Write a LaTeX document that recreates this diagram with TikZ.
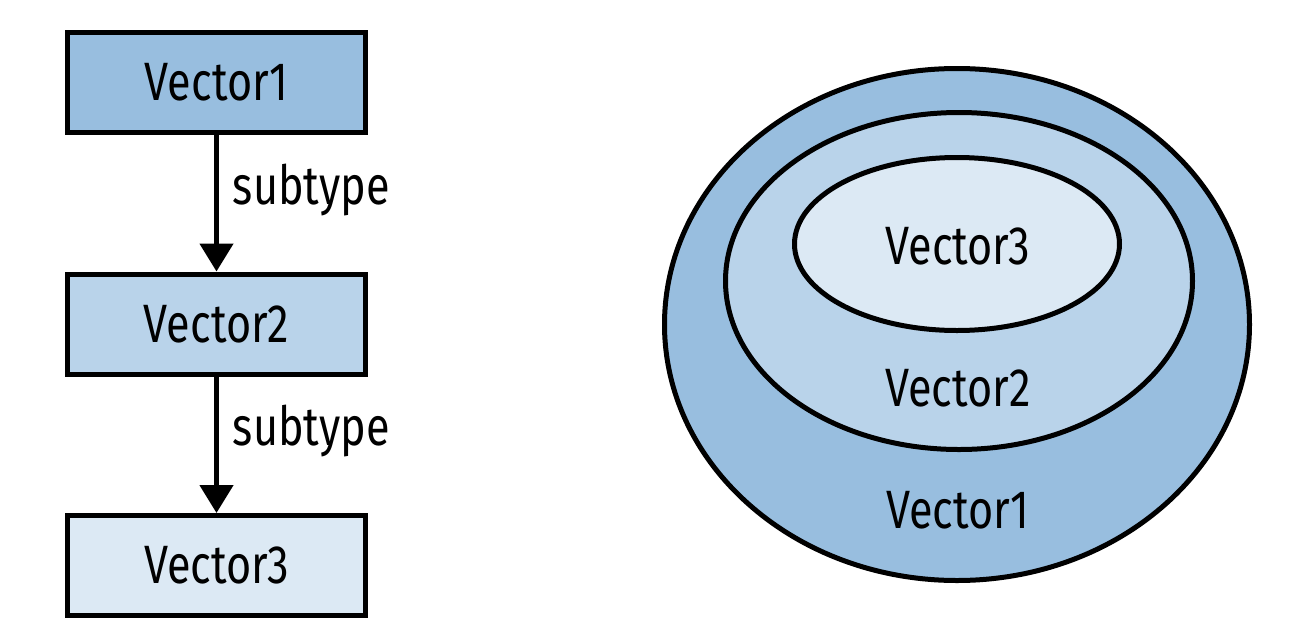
\documentclass[tikz,border=0pt]{standalone}
\usepackage{fontspec}
\setmainfont[FakeStretch=0.8]{Fira Sans}
\usepackage{tikz}
\usetikzlibrary{arrows.meta}
\definecolor{blueA}{RGB}{152,190,223}
\definecolor{blueB}{RGB}{185,211,234}
\definecolor{blueC}{RGB}{220,233,244}
\tikzstyle{vecbox}=[rectangle,draw=black,line width=2.5pt,minimum width=149pt,minimum height=50pt,inner sep=0pt]
\tikzstyle{edge} = [draw,line width=2.4pt,-{Triangle[width=16.5pt,length=14pt]}]
\tikzstyle{weight} = [inner sep=7pt]
\tikzstyle{ring} = [draw=black,line width=2.5pt]

\begin{document}
\begin{tikzpicture}[x=0.5pt, y=-0.5pt, auto, font=\fontsize{27}{32}\selectfont]

  \useasboundingbox (0,0) rectangle (1308,638);

  % type chain
  \foreach \x/\y/\name/\col/\label in {216.5/82.5/v1/blueA/Vector1, 216.5/324/v2/blueB/Vector2, 216.5/565.5/v3/blueC/Vector3}
          \node[vecbox, fill=\col] (\name) at (\x, \y) {\label};

  \foreach \source/\dest in {v1/v2, v2/v3}
         \draw[edge] (\source) -- node[weight, pos=0.4] {subtype} (\dest);

  % nested sets
  \foreach \cx/\cy/\rx/\ry/\col in {957/324.5/292.5/256/blueA, 959/281/233.5/168.5/blueB, 957/244/162.5/86.5/blueC}
          \draw[ring, fill=\col] (\cx, \cy) ellipse [x radius=\rx, y radius=\ry];

  \foreach \x/\y/\name/\label in {958/510/s1/Vector1, 958/388/s2/Vector2, 958/246/s3/Vector3}
          \node (\name) at (\x, \y) {\label};

\end{tikzpicture}
\end{document}
